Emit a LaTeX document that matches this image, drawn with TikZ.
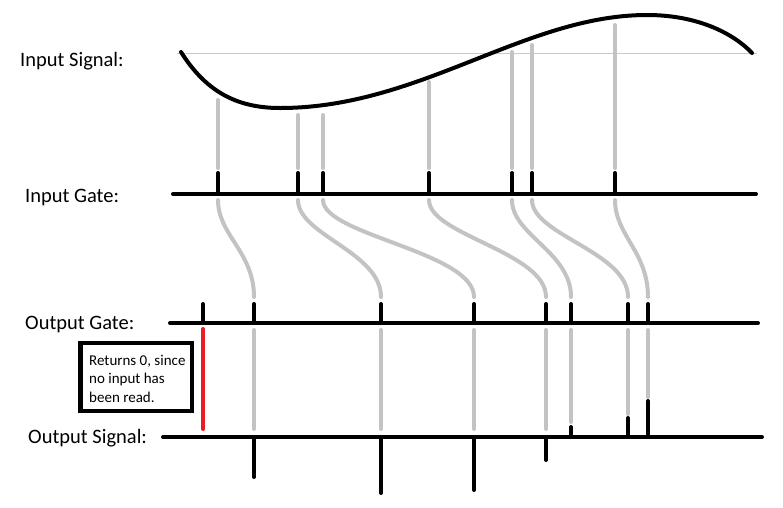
\documentclass[tikz,border=0pt]{standalone}
\usepackage{fontspec}
\setmainfont{Carlito}
\definecolor{lg}{RGB}{195,195,195}
\definecolor{paintred}{RGB}{237,28,36}
\begin{document}
\begin{tikzpicture}[x=1pt,y=-1pt,
  axisline/.style={line width=4pt,line cap=round,black},
  tick/.style={line width=4pt,line cap=round,black},
  link/.style={line width=4pt,line cap=round,lg},
  lbl/.style={anchor=base west,inner sep=0pt,font=\fontsize{20.5}{24}\selectfont},
  notebox/.style={line width=4.5pt,draw=black}
]
\useasboundingbox (0,0) rectangle (783,507);
% labels
\node[lbl] (lis) at (20,66) {Input Signal:};
\node[lbl] (lig) at (25,202) {Input Gate:};
\node[lbl] (log) at (25,329) {Output Gate:};
\node[lbl] (los) at (28,443) {Output Signal:};
% reference line
\coordinate (r0) at (177,53);
\coordinate (r1) at (757,53);
\draw[line width=1pt,color=lg!85!black!60] (r0) -- (r1);
% input signal curve
\coordinate (c0) at (181,52);
\coordinate (cmin) at (280,108);
\coordinate (cmax) at (647,15);
\coordinate (c3) at (752,53);
\draw[line width=4pt,line cap=round]
  (c0) .. controls (205,90) and (235,108) .. (cmin)
       .. controls (420,108) and (525,15) .. (cmax)
       .. controls (700,15) and (735,35) .. (c3);
% gate lines
\coordinate (igA) at (173,194); \coordinate (igB) at (756,194);
\coordinate (ogA) at (170,323); \coordinate (ogB) at (758,323);
\coordinate (osA) at (163,437); \coordinate (osB) at (762,437);
\draw[axisline] (igA) -- (igB);
\draw[axisline] (ogA) -- (ogB);
\draw[axisline] (osA) -- (osB);
% sampling lines: curve -> input gate
\foreach \x/\t in {218/100,298/115,323/115,429/82,512/52,532/45,615/25}{
  \coordinate (s\x) at (\x,\t);
  \coordinate (sb\x) at (\x,168);
  \coordinate (it\x) at (\x,173);
  \coordinate (ib\x) at (\x,194);
  \draw[link] (s\x) -- (sb\x);
  \draw[tick] (it\x) -- (ib\x);
}
% input gate -> output gate curves
\foreach \a/\b in {218/254,298/381,323/474,429/546,512/571,532/628,615/648}{
  \coordinate (ca\a) at (\a,200);
  \coordinate (cb\a) at (\b,297);
  \draw[link] (ca\a) .. controls ++(0,35) and ++(0,-45) .. (cb\a);
}
% output gate ticks
\foreach \x in {203,254,381,474,546,571,628,648}{
  \coordinate (ot\x) at (\x,304);
  \coordinate (ob\x) at (\x,323);
  \draw[tick] (ot\x) -- (ob\x);
}
% gray verticals output gate -> output signal
\foreach \x/\e in {254/429,381/429,474/429,546/429,571/422,628/414,648/397}{
  \coordinate (gt\x) at (\x,330);
  \coordinate (ge\x) at (\x,\e);
  \draw[link] (gt\x) -- (ge\x);
}
% red line
\coordinate (rt) at (203,329);
\coordinate (rb) at (203,429);
\draw[line width=4pt,line cap=round,paintred] (rt) -- (rb);
% output signal ticks
\foreach \x/\y in {254/477,381/493,474/490,546/460,571/427,628/418,648/401}{
  \coordinate (p\x) at (\x,\y);
  \coordinate (q\x) at (\x,437);
  \draw[tick] (q\x) -- (p\x);
}
% note box
\draw[notebox] (80.5,343) rectangle (192,411);
\node[anchor=base west,inner sep=0pt,align=left,font=\fontsize{15}{18.3}\selectfont] (note) at (89,402)
  {Returns 0, since\\no input has\\been read.};
\end{tikzpicture}
\end{document}
